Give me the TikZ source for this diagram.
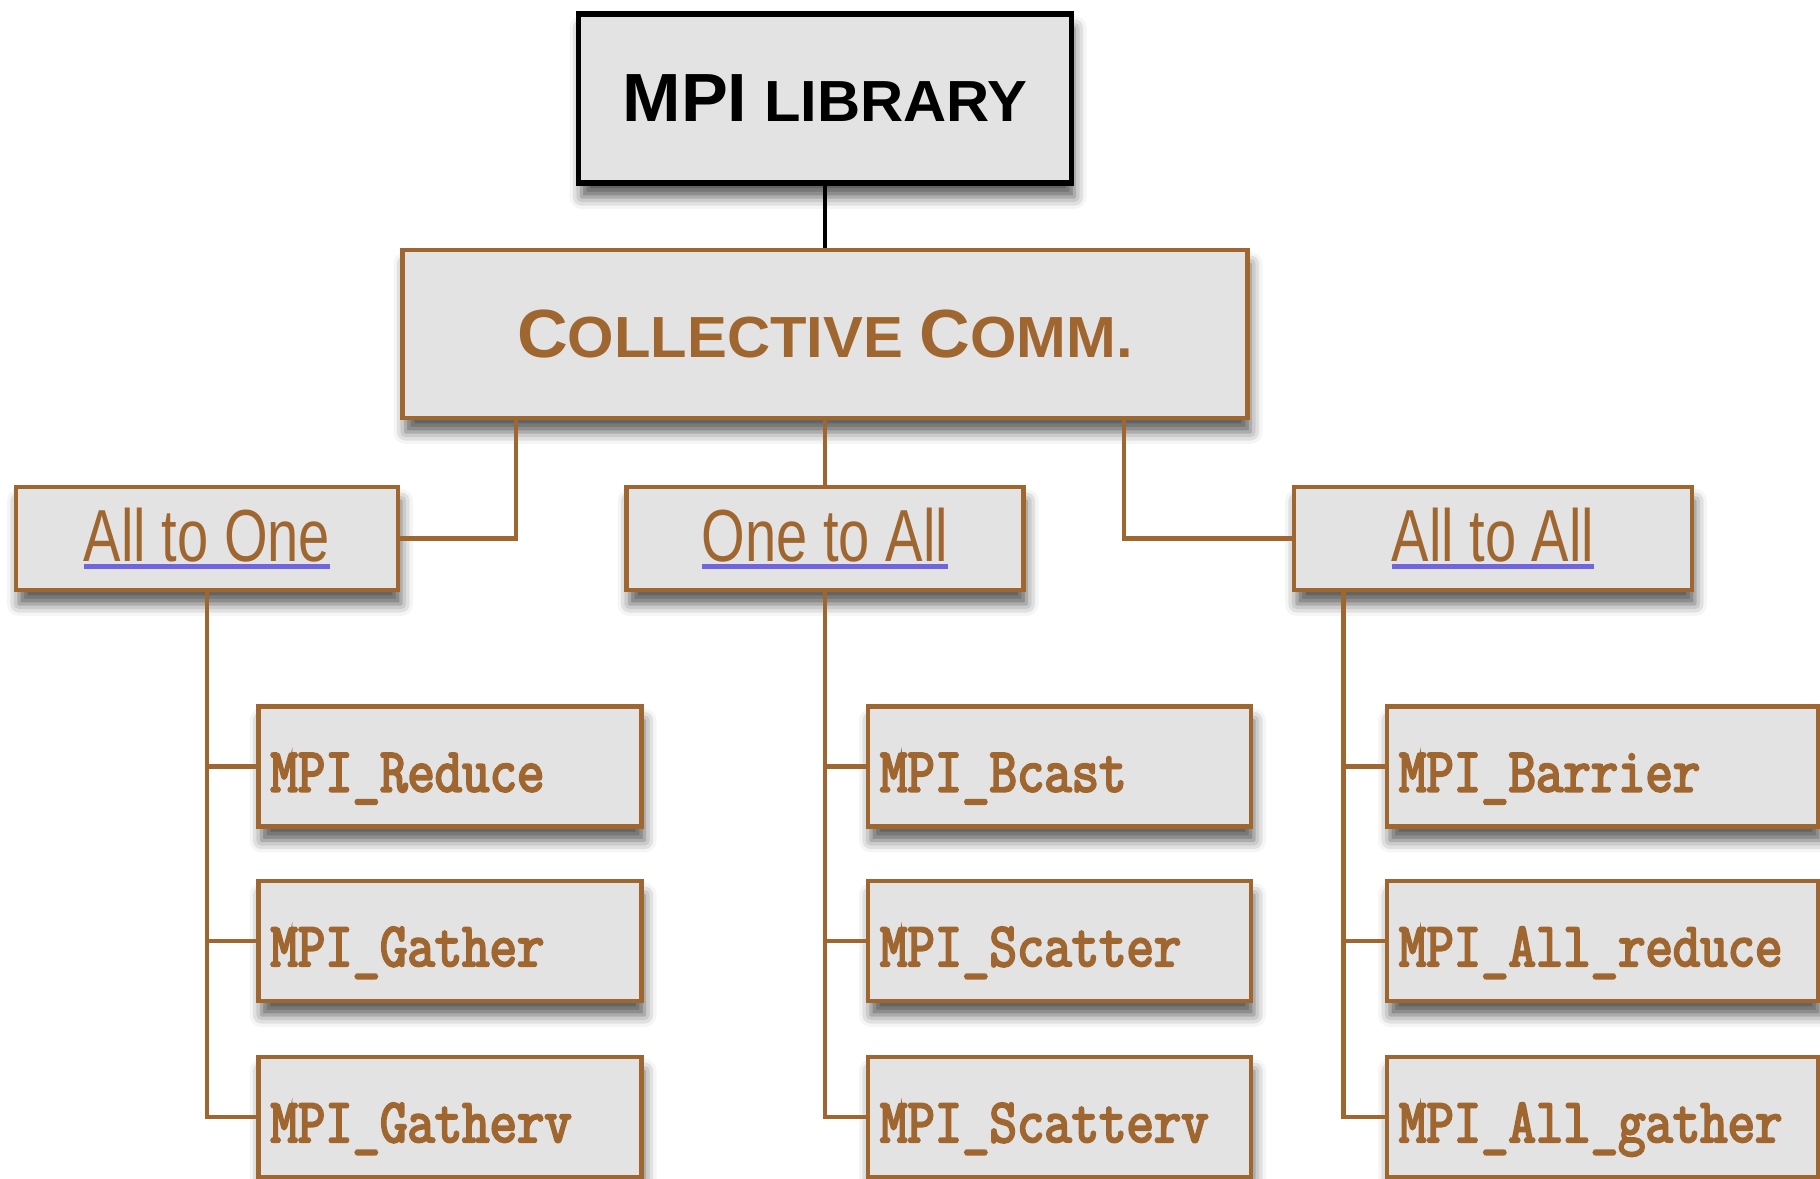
\documentclass[tikz,border=0pt]{standalone}
\usepackage{fontspec}
\usepackage{xcolor}
\usepackage{tikz}
\usetikzlibrary{shadows, shadows.blur, calc, positioning}
\definecolor{rust}{RGB}{160, 102, 48}
\definecolor{panel}{RGB}{227, 227, 227}
\definecolor{linkblue}{RGB}{112, 100, 225}
\newfontfamily\headfont{Liberation Sans}[FakeStretch=1.03]
\newfontfamily\catfont{Liberation Sans}[FakeStretch=0.76]
\newfontfamily\funcfont{Latin Modern Mono}[FakeStretch=0.85, FakeBold=3.5]
% larger capitals for the small-caps headings
\newcommand{\Cap}[1]{{\fontsize{19.4}{22}\selectfont #1}}
% underlined link text
\newsavebox{\linkbox}
\newcommand{\linkul}[1]{\sbox\linkbox{#1}\rlap{\color{linkblue}\rule[-2pt]{\wd\linkbox}{1.3pt}}\usebox\linkbox}

\begin{document}
\begin{tikzpicture}[
    box/.style={rectangle, draw=rust, line width=1.4pt, fill=panel,
                blur shadow={shadow xshift=0.03cm, shadow yshift=-0.14cm,
                             shadow blur radius=0.12cm, shadow opacity=65}},
    head/.style={box, font=\headfont\bfseries\fontsize{16.5}{20}\selectfont},
    group/.style={box, minimum height=1.03cm, text=rust,
                  font=\catfont\fontsize{21}{24}\selectfont},
    func/.style={box, minimum height=1.2cm, inner xsep=0.12cm, align=left,
                 text width=3.59cm, text height=0.6cm, text depth=0.1cm, text=rust,
                 font=\funcfont\fontsize{17.8}{20}\selectfont},
    link/.style={draw=rust, line width=1.2pt}]

    \useasboundingbox (0,0) rectangle (18.2,-11.79);

    % Library and collective communication
    \node[head, draw=black, line width=1.7pt, minimum width=4.93cm, minimum height=1.69cm]
        (lib) at (8.25,-0.985) {\Cap{MPI} LIBRARY};
    \node[head, text=rust, minimum width=8.45cm, minimum height=1.68cm]
        (coll) at (8.25,-3.34) {\Cap{C}OLLECTIVE \Cap{C}OMM.};

    % Groups
    \node[group, minimum width=3.82cm] (toone) at (2.07,-5.385) {\linkul{All to One}};
    \node[group, minimum width=3.97cm] (toall) at (8.25,-5.385) {\linkul{One to All}};
    \node[group, minimum width=3.98cm] (alltoall) at (14.93,-5.385) {\linkul{All to All}};

    % Functions
    \node[func] (reduce)  at (4.50,-7.665) {MPI\_Reduce};
    \node[func] (gather)  at (4.50,-9.41)  {MPI\_Gather};
    \node[func] (gatherv) at (4.50,-11.17) {MPI\_Gatherv};

    \node[func] (bcast)    at (10.595,-7.665) {MPI\_Bcast};
    \node[func] (scatter)  at (10.595,-9.41)  {MPI\_Scatter};
    \node[func] (scatterv) at (10.595,-11.17) {MPI\_Scatterv};

    \node[func, text width=4.07cm] (barrier)   at (16.025,-7.665) {MPI\_Barrier};
    \node[func, text width=4.07cm] (allreduce) at (16.025,-9.41)  {MPI\_All\_reduce};
    \node[func, text width=4.07cm] (allgather) at (16.025,-11.17) {MPI\_All\_gather};

    % Connectors
    \draw[draw=black, line width=1.3pt] (lib.south) -- (coll.north);
    \draw[link] ($(coll.south west)+(1.16,0)$) |- (toone.east);
    \draw[link] (coll.south) -- (toall.north);
    \draw[link] ($(coll.south east)+(-1.26,0)$) |- (alltoall.west);

    \draw[link] (toone.south) |- (reduce.west);
    \draw[link] (toone.south) |- (gather.west);
    \draw[link] (toone.south) |- (gatherv.west);

    \draw[link] (toall.south) |- (bcast.west);
    \draw[link] (toall.south) |- (scatter.west);
    \draw[link] (toall.south) |- (scatterv.west);

    \coordinate (trunk) at ($(alltoall.south west)+(0.52,0)$);
    \draw[link] (trunk) |- (barrier.west);
    \draw[link] (trunk) |- (allreduce.west);
    \draw[link] (trunk) |- (allgather.west);
\end{tikzpicture}
\end{document}
